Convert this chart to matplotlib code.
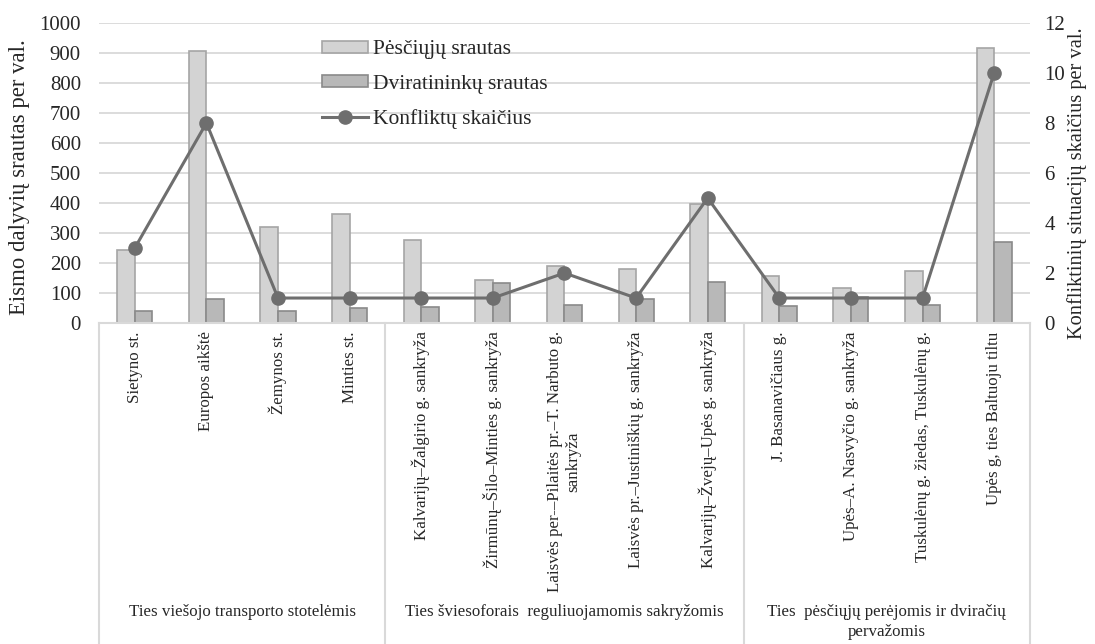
import numpy as np
import matplotlib
matplotlib.use("Agg")
import matplotlib.pyplot as plt
import matplotlib.transforms as mtransforms

plt.rcParams['font.family'] = ['Liberation Serif', 'DejaVu Serif']

# data
categories = [
    "Sietyno st.", "Europos aikštė", "Žemynos st.", "Minties st.",
    "Kalvarijų–Žalgirio g. sankryža", "Žirmūnų–Šilo–Minties g. sankryža",
    "Laisvės per-–Pilaitės pr.–T. Narbuto g.\nsankryža",
    "Laisvės pr.–Justiniškių g. sankryža", "Kalvarijų–Žvejų–Upės g. sankryža",
    "J. Basanavičiaus g.", "Upės–A. Nasvyčio g. sankryža",
    "Tuskulėnų g. žiedas, Tuskulėnų g.", "Upės g, ties Baltuoju tiltu",
]
pesciuju = [245, 905, 320, 365, 277, 145, 190, 180, 397, 157, 117, 173, 917]
dviratininku = [40, 80, 40, 50, 53, 133, 60, 80, 137, 57, 88, 60, 270]
konfliktai = [3, 8, 1, 1, 1, 1, 2, 1, 5, 1, 1, 1, 10]
groups = ["Ties viešojo transporto stotelėmis",
          "Ties šviesoforais  reguliuojamomis sakryžomis",
          "Ties  pėsčiųjų perėjomis ir dviračių\npervažomis"]
group_sizes = [4, 5, 4]

fs_tick = 15
fs_cat = 12.2
txt_c = '#262626'
grid_c = '#d9d9d9'
x = np.arange(len(categories))
w = 0.245

fig = plt.figure(figsize=(10.95, 6.44), dpi=100)
ax = fig.add_axes([0.0904, 0.4984, 0.8502, 0.4659])

ax.bar(x - w / 2, pesciuju, w, color='#d3d3d3', edgecolor='#a5a5a5', linewidth=1.2,
       label='Pėsčiųjų srautas', zorder=2)
ax.bar(x + w / 2, dviratininku, w, color='#b8b8b8', edgecolor='#8a8a8a', linewidth=1.2,
       label='Dviratininkų srautas', zorder=2)
ax.set_ylim(0, 1000)
ax.set_yticks(range(0, 1001, 100))
ax.set_xlim(-0.5, len(categories) - 0.5)
ax.grid(axis='y', color=grid_c, linewidth=1.3, zorder=0)
ax.set_axisbelow(True)
for s in ['top', 'left', 'right']:
    ax.spines[s].set_visible(False)
ax.spines['bottom'].set_color(grid_c)
ax.spines['bottom'].set_linewidth(1.5)
ax.tick_params(axis='y', length=0, labelsize=fs_tick, pad=13, labelcolor=txt_c)
ax.set_xticks(x)
ax.set_xticklabels(categories, rotation=90, fontsize=fs_cat, va='top', ha='center',
                   multialignment='center', color=txt_c)
ax.tick_params(axis='x', length=0, pad=6)
ax.set_ylabel('Eismo dalyvių srautas per val.', fontsize=16.4, color=txt_c)
ax.yaxis.set_label_coords(-0.074, 0.487)

ax2 = ax.twinx()
ax2.plot(x, konfliktai, color='#6e6e6e', linewidth=2.2, marker='o', markersize=9.5,
         label='Konfliktų skaičius', zorder=3)
ax2.set_ylim(0, 12)
ax2.set_yticks(range(0, 13, 2))
for s in ax2.spines.values():
    s.set_visible(False)
ax2.tick_params(axis='y', length=0, labelsize=fs_tick, pad=10.4, labelcolor=txt_c)
ax2.set_ylabel('Konfliktinių situacijų skaičius per val.', fontsize=14.7, rotation=90,
               color=txt_c)
ax2.yaxis.set_label_coords(1.04, 0.467)

# multi-level category axis
trans = mtransforms.blended_transform_factory(ax.transData, ax.transAxes)
edges = np.concatenate([[0], np.cumsum(group_sizes)]) - 0.5
for b in edges:
    ax.plot([b, b], [0, -1.08], transform=trans, clip_on=False, color=grid_c,
            linewidth=1.5)
for i, g in enumerate(groups):
    mid = (edges[i] + edges[i + 1]) / 2
    ax.text(mid, -0.935, g, transform=trans, ha='center', va='top', fontsize=fs_cat,
            multialignment='center', linespacing=1.35, color=txt_c)

h1, l1 = ax.get_legend_handles_labels()
h2, l2 = ax2.get_legend_handles_labels()
ax2.legend(h1 + h2, l1 + l2, loc='upper left', bbox_to_anchor=(0.2395, 0.942),
           frameon=False, fontsize=15.5, handlelength=2.14, handleheight=0.5,
           labelspacing=0.72, handletextpad=0.23, borderaxespad=0, borderpad=0,
           labelcolor=txt_c)

fig.savefig('out.png', dpi=100)
